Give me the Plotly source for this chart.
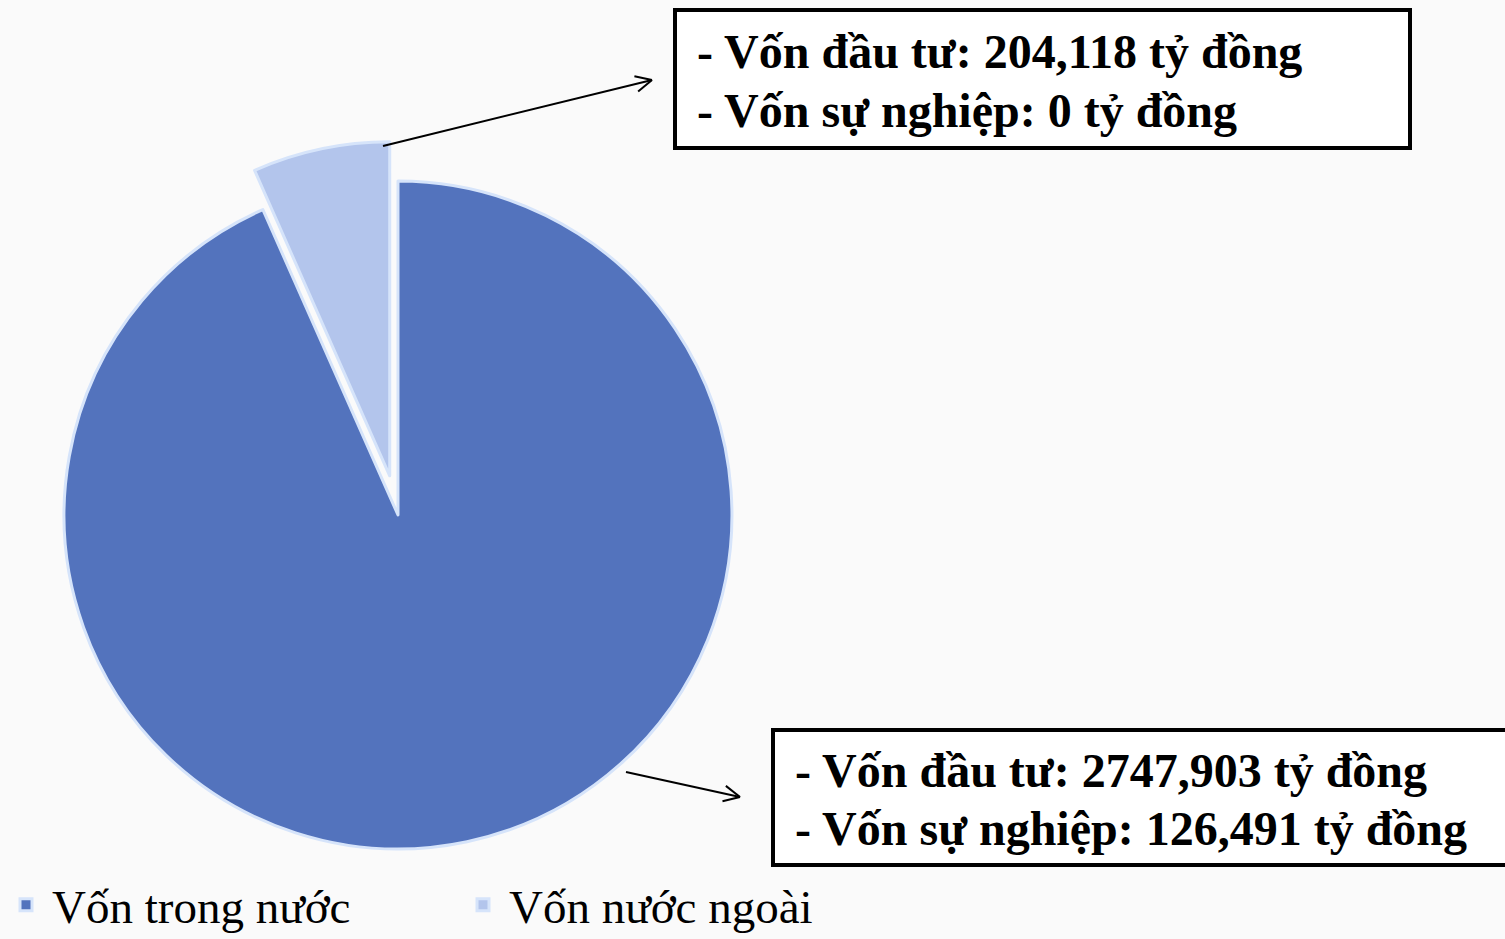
import math
import plotly.graph_objects as go

W, H = 1505, 939

# data
labels = ["Vốn trong nước", "Vốn nước ngoài"]
von_dau_tu = [2747.903, 204.118]
von_su_nghiep = [126.491, 0]
tong_von = [a + b for a, b in zip(von_dau_tu, von_su_nghiep)]
pulls = [0, 0.12]
colors = ["#5373bd", "#b3c5ec"]

box_lines = [
    ["- Vốn đầu tư: 2747,903 tỷ đồng", "- Vốn sự nghiệp: 126,491 tỷ đồng"],
    ["- Vốn đầu tư: 204,118 tỷ đồng", "- Vốn sự nghiệp: 0 tỷ đồng"],
]


def px_x(x):
    return x / W


def px_y(y):
    return 1 - y / H


fig = go.Figure()

fig.add_trace(go.Pie(
    labels=labels,
    values=tong_von,
    sort=False,
    direction="clockwise",
    rotation=0,
    pull=pulls,
    textinfo="none",
    hoverinfo="label+value",
    marker=dict(colors=colors, line=dict(color="#d6e4fa", width=3)),
    domain=dict(x=[px_x(24), px_x(772)], y=[px_y(889), px_y(141)]),
))

shapes = []
annotations = []

# text boxes (pixel positions)
boxes = [
    dict(x0=773, y0=730, x1=1515, y1=865, tx=793, ty=[770, 828]),
    dict(x0=675, y0=10, x1=1410, y1=148, tx=695, ty=[52, 110]),
]
for b, lines in zip(boxes, box_lines):
    shapes.append(dict(
        type="rect", xref="paper", yref="paper",
        x0=px_x(b["x0"]), x1=px_x(b["x1"]), y0=px_y(b["y1"]), y1=px_y(b["y0"]),
        line=dict(color="black", width=4), fillcolor="white", layer="above",
    ))
    for line, ty in zip(lines, b["ty"]):
        annotations.append(dict(
            text="<b>" + line + "</b>", x=px_x(b["tx"]), y=px_y(ty),
            xref="paper", yref="paper", xanchor="left", yanchor="middle",
            showarrow=False,
            font=dict(family="Liberation Serif", size=48, color="black"),
        ))

# arrows with open heads
arrows = [((626, 772), (740, 797)), ((383, 146), (652, 80))]
for (x0, y0), (x1, y1) in arrows:
    shapes.append(dict(type="line", xref="paper", yref="paper",
                       x0=px_x(x0), y0=px_y(y0), x1=px_x(x1), y1=px_y(y1),
                       line=dict(color="black", width=2)))
    ang = math.atan2(y1 - y0, x1 - x0)
    for d in (0.45, -0.45):
        hx = x1 - 18 * math.cos(ang + d)
        hy = y1 - 18 * math.sin(ang + d)
        shapes.append(dict(type="line", xref="paper", yref="paper",
                           x0=px_x(hx), y0=px_y(hy), x1=px_x(x1), y1=px_y(y1),
                           line=dict(color="black", width=2)))

fig.update_layout(
    width=W, height=H,
    margin=dict(l=0, r=0, t=0, b=0, autoexpand=False),
    paper_bgcolor="#fafafa",
    plot_bgcolor="#fafafa",
    shapes=shapes,
    annotations=annotations,
    showlegend=True,
    legend=dict(
        orientation="h", x=0.0, y=-0.004, xanchor="left", yanchor="bottom",
        entrywidth=400, entrywidthmode="pixels",
        font=dict(family="Liberation Serif", size=47, color="black"),
        bgcolor="rgba(0,0,0,0)", itemwidth=42,
    ),
)

fig.write_html("out.html", config={"displayModeBar": False},
               post_script="document.body.style.margin='0';")
